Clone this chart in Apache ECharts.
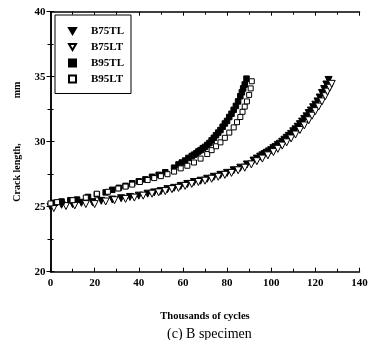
<!DOCTYPE html>
<html>
<head>
<meta charset="utf-8">
<script src="https://cdn.jsdelivr.net/npm/echarts@6/dist/echarts.min.js"></script>
<style>
    html, body { margin: 0; padding: 0; background: #fff; }
    #id-div-chart { width: 373px; height: 340px; }
</style>
</head>
<body>
<div id="id-div-chart"></div>
<script>
var e = (selector) => document.querySelector(selector)

// 坐标轴刻度
var xTicks = [0, 20, 40, 60, 80, 100, 120, 140]
var yTicks = [20, 25, 30, 35, 40]

// B75TL 实心倒三角
var b75tlCycles = [0, 5, 10, 14, 19, 23, 28, 32, 36, 40, 44, 47, 50, 53, 56, 59, 62, 65, 68, 71, 74, 77, 80, 83, 86, 89, 92, 93.5, 95, 96, 97, 98, 99, 100, 101, 102, 103, 104, 105, 106, 107, 108, 109, 110, 111, 112, 113, 114, 115, 116, 117, 118, 119, 120, 121, 122, 123, 124, 125, 126]
var b75tlLength = [25.0, 25.15, 25.2, 25.3, 25.35, 25.45, 25.55, 25.65, 25.75, 25.85, 26.0, 26.1, 26.2, 26.35, 26.45, 26.6, 26.75, 26.9, 27.0, 27.15, 27.3, 27.45, 27.6, 27.8, 28.0, 28.25, 28.55, 28.7, 28.85, 28.95, 29.05, 29.15, 29.25, 29.35, 29.5, 29.6, 29.75, 29.85, 30.0, 30.15, 30.3, 30.45, 30.6, 30.8, 30.95, 31.15, 31.35, 31.55, 31.75, 31.95, 32.2, 32.4, 32.65, 32.85, 33.1, 33.4, 33.75, 34.05, 34.4, 34.75]

// B75LT 空心倒三角
var b75ltCycles = [1.5, 7, 11, 16, 20, 25, 29, 34, 38, 42, 46, 49, 52, 55, 58, 61, 64, 67, 70, 73, 76, 79, 82, 85, 88, 91, 93.5, 96, 98.5, 101, 103, 105, 107, 109, 111, 113, 115, 117, 118.5, 120, 121.5, 123, 124.5, 125.5, 126.5, 127.4]
var b75ltLength = [24.9, 25.05, 25.1, 25.2, 25.2, 25.4, 25.5, 25.6, 25.7, 25.85, 26.0, 26.1, 26.2, 26.35, 26.45, 26.6, 26.75, 26.9, 27.0, 27.15, 27.3, 27.45, 27.6, 27.8, 28.0, 28.25, 28.5, 28.7, 28.95, 29.2, 29.45, 29.7, 29.95, 30.25, 30.55, 30.9, 31.25, 31.65, 32.0, 32.35, 32.7, 33.1, 33.5, 33.85, 34.15, 34.45]

// B95TL 实心方块
var b95tlCycles = [2, 5, 9, 12, 17, 21, 25, 28, 31, 34, 37, 40, 43, 46, 49, 52, 56, 58, 59.5, 61, 62.5, 64, 65, 66, 67, 68, 69, 70, 71, 72, 73, 74, 75, 76, 77, 78, 79, 80, 81, 82, 83, 84, 85, 86, 86.7, 87.3, 88, 88.8]
var b95tlLength = [25.3, 25.4, 25.5, 25.55, 25.75, 25.95, 26.1, 26.3, 26.45, 26.6, 26.8, 26.95, 27.1, 27.3, 27.45, 27.65, 28.0, 28.25, 28.4, 28.55, 28.75, 28.9, 29.0, 29.1, 29.25, 29.35, 29.5, 29.6, 29.75, 29.9, 30.1, 30.3, 30.5, 30.7, 30.9, 31.15, 31.4, 31.6, 31.9, 32.15, 32.45, 32.75, 33.1, 33.5, 33.8, 34.1, 34.4, 34.85]

// B95LT 空心方块
var b95ltCycles = [0, 3, 10, 16, 21, 26, 30.7, 34, 37, 40.5, 44, 47, 50, 53, 56, 59, 62, 65, 68, 71, 73, 75, 77, 79, 81, 83, 84.5, 86, 87, 88, 89, 90, 90.7, 91.2]
var b95ltLength = [25.25, 25.35, 25.5, 25.7, 26.0, 26.15, 26.4, 26.55, 26.7, 26.9, 27.05, 27.2, 27.35, 27.5, 27.7, 27.95, 28.15, 28.4, 28.7, 29.05, 29.35, 29.65, 29.95, 30.3, 30.7, 31.1, 31.5, 31.9, 32.3, 32.7, 33.1, 33.6, 34.1, 34.65]

var serif = 'Liberation Serif'
var downTriangle = 'path://M0,0L10,0L5,8.66Z'

var pairs = function(xs, ys) {
    var r = []
    for (var i = 0; i < xs.length; i++) {
        r.push([xs[i], ys[i]])
    }
    return r
}

var scatter = function(name, xs, ys, symbol, filled, size) {
    return {
        name: name,
        type: 'scatter',
        data: pairs(xs, ys),
        symbol: symbol,
        symbolSize: size,
        symbolRotate: symbol == 'triangle' ? 180 : 0,
        itemStyle: {
            color: filled ? '#000' : '#fff',
            borderColor: '#000',
            borderWidth: 1,
            opacity: 1,
        },
        emphasis: { disabled: true },
    }
}

var frameAxis = function(position, min, max, interval, split) {
    return {
        type: 'value',
        position: position,
        min: min,
        max: max,
        interval: interval,
        axisLine: { show: true, lineStyle: { color: '#000', width: 1.5 } },
        axisTick: { show: true, inside: true, length: 4, lineStyle: { color: '#000' } },
        minorTick: { show: true, splitNumber: split, length: 3, lineStyle: { color: '#000' } },
        axisLabel: { show: false },
        splitLine: { show: false },
    }
}

var option = {
    backgroundColor: '#fff',
    animation: false,
    title: {
        text: '(c) B specimen',
        left: 162,
        top: 322,
        textStyle: { fontFamily: serif, fontSize: 14, fontWeight: 'normal', color: '#000' },
    },
    legend: {
        orient: 'vertical',
        left: 55,
        top: 15,
        padding: [9.5, 7, 8, 13],
        itemWidth: 7,
        itemHeight: 7,
        itemGap: 3,
        borderColor: '#000',
        borderWidth: 1,
        backgroundColor: '#fff',
        data: [
            { name: 'B75TL', icon: downTriangle },
            { name: 'B75LT', icon: downTriangle },
            { name: 'B95TL', icon: 'rect' },
            { name: 'B95LT', icon: 'rect' },
        ],
        textStyle: {
            fontFamily: serif,
            fontWeight: 'bold',
            fontSize: 11,
            color: '#000',
            padding: [0, 0, 0, 10],
            lineHeight: 13,
        },
    },
    grid: {
        left: 50.5,
        right: 13.5,
        top: 11.7,
        bottom: 68.3,
    },
    xAxis: [
        {
            type: 'value',
            min: xTicks[0],
            max: xTicks[xTicks.length - 1],
            interval: 20,
            name: 'Thousands of cycles',
            nameLocation: 'middle',
            nameGap: 39,
            nameTextStyle: { fontFamily: serif, fontWeight: 'bold', fontSize: 10.5, color: '#000' },
            axisLine: { show: true, lineStyle: { color: '#000', width: 1.5 } },
            axisTick: { show: true, inside: true, length: 4, lineStyle: { color: '#000' } },
            minorTick: { show: true, splitNumber: 2, length: 3, lineStyle: { color: '#000' } },
            axisLabel: { color: '#000', fontFamily: serif, fontWeight: 'bold', fontSize: 11, margin: 6 },
            splitLine: { show: false },
        },
        frameAxis('top', 0, 140, 20, 2),
    ],
    yAxis: [
        {
            type: 'value',
            min: yTicks[0],
            max: yTicks[yTicks.length - 1],
            interval: 5,
            name: '{a|Crack length,}{g|}{a|mm}',
            nameLocation: 'middle',
            nameRotate: 90,
            nameGap: 26,
            nameTextStyle: {
                color: '#000',
                rich: {
                    a: { fontFamily: serif, fontWeight: 'bold', fontSize: 10, color: '#000' },
                    g: { width: 45 },
                },
            },
            axisLine: { show: true, lineStyle: { color: '#000', width: 1.5 } },
            axisTick: { show: true, inside: true, length: 4, lineStyle: { color: '#000' } },
            minorTick: { show: true, splitNumber: 2, length: 3, lineStyle: { color: '#000' } },
            axisLabel: { color: '#000', fontFamily: serif, fontWeight: 'bold', fontSize: 11, margin: 5 },
            splitLine: { show: false },
        },
        frameAxis('right', 20, 40, 5, 2),
    ],
    series: [
        scatter('B75TL', b75tlCycles, b75tlLength, 'triangle', true, 7),
        scatter('B75LT', b75ltCycles, b75ltLength, 'triangle', false, 7),
        scatter('B95TL', b95tlCycles, b95tlLength, 'rect', true, 5.5),
        scatter('B95LT', b95ltCycles, b95ltLength, 'rect', false, 5),
    ],
}

var __main = function() {
    var chart = echarts.init(e('#id-div-chart'), null, { renderer: 'canvas' })
    chart.setOption(option)
}

__main()
</script>
</body>
</html>
